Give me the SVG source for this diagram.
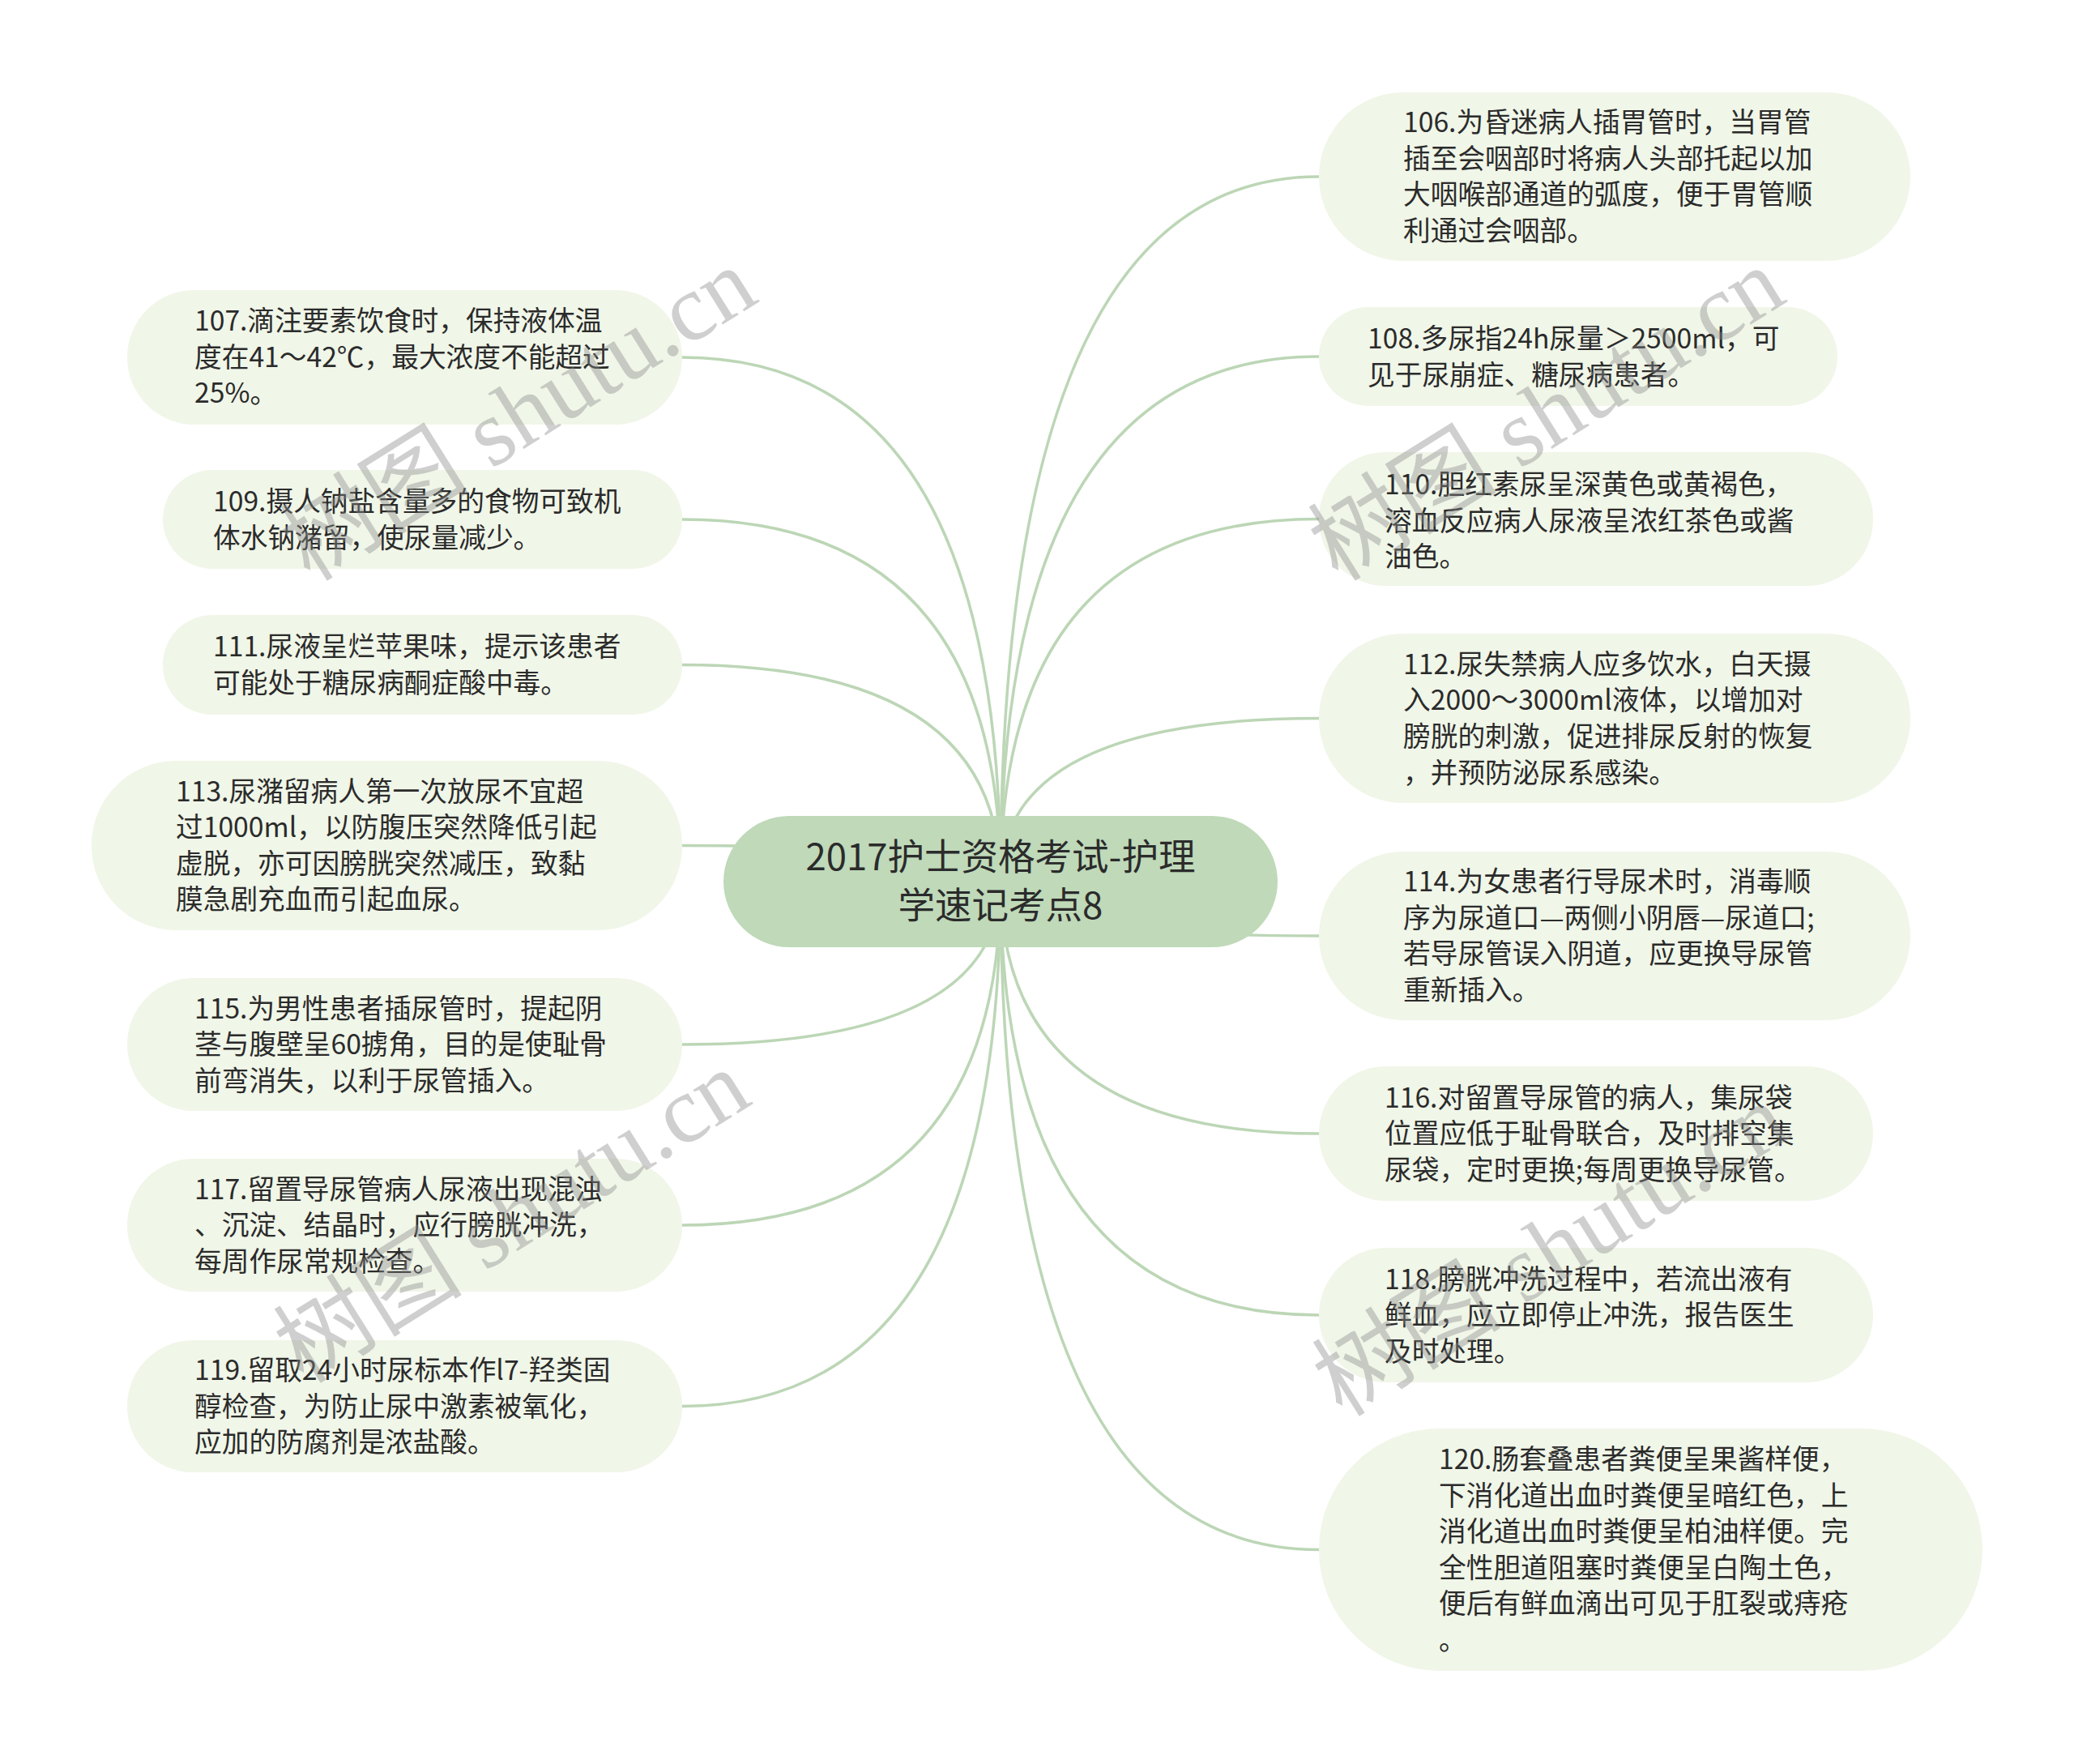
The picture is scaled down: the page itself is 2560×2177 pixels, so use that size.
<svg xmlns="http://www.w3.org/2000/svg" width="2560" height="2177" viewBox="0 0 2560 2177">
<style>
.bg{fill:#ffffff}
.node{fill:#f0f6e8}
.root{fill:#bfd9b9}
.t{font-family:"Noto Sans CJK SC","Microsoft YaHei",sans-serif;font-size:33.7px;fill:#2b2b2b}
.rt{font-family:"Noto Sans CJK SC","Microsoft YaHei",sans-serif;font-size:45.5px;fill:#2b2b2b;text-anchor:middle}
.c{fill:none;stroke:#bcd6b6;stroke-width:3.5}
.wm{font-family:"Liberation Serif","Noto Sans CJK SC",serif;font-size:117px;fill:#8a8a8a;opacity:0.4}
</style>
<rect class="bg" x="0" y="0" width="2560" height="2177"/>
<g id="connectors">
<path class="c" d="M1235 1088 Q1235 218 1628 218"/>
<path class="c" d="M1235 1088 Q1235 440 1628 440"/>
<path class="c" d="M1235 1088 Q1235 640.5 1628 640.5"/>
<path class="c" d="M1235 1088 Q1235 886.5 1628 886.5"/>
<path class="c" d="M1235 1088 Q1235 1155 1628 1155"/>
<path class="c" d="M1235 1088 Q1235 1399 1628 1399"/>
<path class="c" d="M1235 1088 Q1235 1623 1628 1623"/>
<path class="c" d="M1235 1088 Q1235 1912.5 1628 1912.5"/>
<path class="c" d="M1235 1088 Q1235 441 842 441"/>
<path class="c" d="M1235 1088 Q1235 641 842 641"/>
<path class="c" d="M1235 1088 Q1235 820.5 842 820.5"/>
<path class="c" d="M1235 1088 Q1235 1043.5 842 1043.5"/>
<path class="c" d="M1235 1088 Q1235 1289 842 1289"/>
<path class="c" d="M1235 1088 Q1235 1512 842 1512"/>
<path class="c" d="M1235 1088 Q1235 1735.5 842 1735.5"/>
</g>
<g id="root">
<rect class="root" x="893" y="1007" width="684" height="162" rx="81"/>
<text class="rt" x="1235" y="1074">2017护士资格考试-护理</text>
<text class="rt" x="1235" y="1134">学速记考点8</text>
</g>
<g id="n106">
<rect class="node" x="1628" y="114" width="730" height="208" rx="104"/>
<text class="t" x="1732" y="163">106.为昏迷病人插胃管时，当胃管</text>
<text class="t" x="1732" y="208">插至会咽部时将病人头部托起以加</text>
<text class="t" x="1732" y="252">大咽喉部通道的弧度，便于胃管顺</text>
<text class="t" x="1732" y="297">利通过会咽部。</text>
</g>
<g id="n108">
<rect class="node" x="1628" y="379" width="640" height="122" rx="61"/>
<text class="t" x="1688" y="430">108.多尿指24h尿量＞2500ml，可</text>
<text class="t" x="1688" y="475">见于尿崩症、糖尿病患者。</text>
</g>
<g id="n110">
<rect class="node" x="1628" y="558" width="684" height="165" rx="82"/>
<text class="t" x="1709" y="610">110.胆红素尿呈深黄色或黄褐色，</text>
<text class="t" x="1709" y="655">溶血反应病人尿液呈浓红茶色或酱</text>
<text class="t" x="1709" y="699">油色。</text>
</g>
<g id="n112">
<rect class="node" x="1628" y="782" width="730" height="209" rx="104"/>
<text class="t" x="1732" y="832">112.尿失禁病人应多饮水，白天摄</text>
<text class="t" x="1732" y="876">入2000～3000ml液体，以增加对</text>
<text class="t" x="1732" y="921">膀胱的刺激，促进排尿反射的恢复</text>
<text class="t" x="1732" y="966">，并预防泌尿系感染。</text>
</g>
<g id="n114">
<rect class="node" x="1628" y="1051" width="730" height="208" rx="104"/>
<text class="t" x="1732" y="1100">114.为女患者行导尿术时，消毒顺</text>
<text class="t" x="1732" y="1145">序为尿道口—两侧小阴唇—尿道口;</text>
<text class="t" x="1732" y="1189">若导尿管误入阴道，应更换导尿管</text>
<text class="t" x="1732" y="1234">重新插入。</text>
</g>
<g id="n116">
<rect class="node" x="1628" y="1316" width="684" height="166" rx="83"/>
<text class="t" x="1709" y="1367">116.对留置导尿管的病人，集尿袋</text>
<text class="t" x="1709" y="1411">位置应低于耻骨联合，及时排空集</text>
<text class="t" x="1709" y="1456">尿袋，定时更换;每周更换导尿管。</text>
</g>
<g id="n118">
<rect class="node" x="1628" y="1540" width="684" height="166" rx="83"/>
<text class="t" x="1709" y="1591">118.膀胱冲洗过程中，若流出液有</text>
<text class="t" x="1709" y="1635">鲜血，应立即停止冲洗，报告医生</text>
<text class="t" x="1709" y="1680">及时处理。</text>
</g>
<g id="n120">
<rect class="node" x="1628" y="1763" width="819" height="299" rx="149"/>
<text class="t" x="1776" y="1813">120.肠套叠患者粪便呈果酱样便，</text>
<text class="t" x="1776" y="1858">下消化道出血时粪便呈暗红色，上</text>
<text class="t" x="1776" y="1902">消化道出血时粪便呈柏油样便。完</text>
<text class="t" x="1776" y="1947">全性胆道阻塞时粪便呈白陶土色，</text>
<text class="t" x="1776" y="1991">便后有鲜血滴出可见于肛裂或痔疮</text>
<text class="t" x="1776" y="2036">。</text>
</g>
<g id="n107">
<rect class="node" x="157" y="358" width="685" height="166" rx="83"/>
<text class="t" x="240" y="408">107.滴注要素饮食时，保持液体温</text>
<text class="t" x="240" y="453">度在41～42℃，最大浓度不能超过</text>
<text class="t" x="240" y="497">25%。</text>
</g>
<g id="n109">
<rect class="node" x="201" y="580" width="641" height="122" rx="61"/>
<text class="t" x="263" y="631">109.摄人钠盐含量多的食物可致机</text>
<text class="t" x="263" y="676">体水钠潴留，使尿量减少。</text>
</g>
<g id="n111">
<rect class="node" x="201" y="759" width="641" height="123" rx="61"/>
<text class="t" x="263" y="810">111.尿液呈烂苹果味，提示该患者</text>
<text class="t" x="263" y="855">可能处于糖尿病酮症酸中毒。</text>
</g>
<g id="n113">
<rect class="node" x="113" y="939" width="729" height="209" rx="104"/>
<text class="t" x="217" y="989">113.尿潴留病人第一次放尿不宜超</text>
<text class="t" x="217" y="1033">过1000ml，以防腹压突然降低引起</text>
<text class="t" x="217" y="1078">虚脱，亦可因膀胱突然减压，致黏</text>
<text class="t" x="217" y="1122">膜急剧充血而引起血尿。</text>
</g>
<g id="n115">
<rect class="node" x="157" y="1207" width="685" height="164" rx="82"/>
<text class="t" x="240" y="1257">115.为男性患者插尿管时，提起阴</text>
<text class="t" x="240" y="1301">茎与腹壁呈60掳角，目的是使耻骨</text>
<text class="t" x="240" y="1346">前弯消失，以利于尿管插入。</text>
</g>
<g id="n117">
<rect class="node" x="157" y="1430" width="685" height="164" rx="82"/>
<text class="t" x="240" y="1480">117.留置导尿管病人尿液出现混浊</text>
<text class="t" x="240" y="1524">、沉淀、结晶时，应行膀胱冲洗，</text>
<text class="t" x="240" y="1569">每周作尿常规检查。</text>
</g>
<g id="n119">
<rect class="node" x="157" y="1654" width="685" height="163" rx="81"/>
<text class="t" x="240" y="1703">119.留取24小时尿标本作l7-羟类固</text>
<text class="t" x="240" y="1748">醇检查，为防止尿中激素被氧化，</text>
<text class="t" x="240" y="1792">应加的防腐剂是浓盐酸。</text>
</g>
<g id="watermarks">
<text class="wm" text-anchor="middle" transform="translate(661 545) rotate(-32)">树图 shutu.cn</text>
<text class="wm" text-anchor="middle" transform="translate(1930 545) rotate(-32)">树图 shutu.cn</text>
<text class="wm" text-anchor="middle" transform="translate(653 1535) rotate(-32)">树图 shutu.cn</text>
<text class="wm" text-anchor="middle" transform="translate(1935 1576) rotate(-32)">树图 shutu.cn</text>
</g>
</svg>
